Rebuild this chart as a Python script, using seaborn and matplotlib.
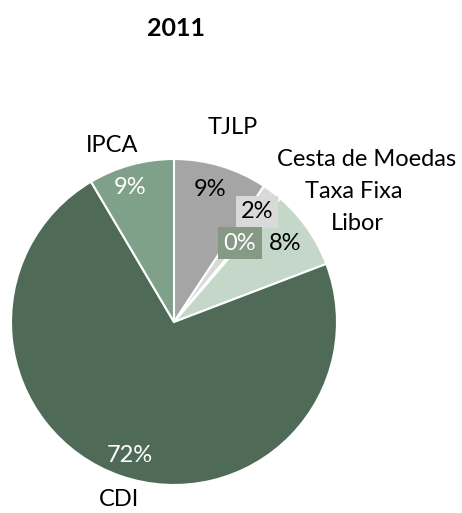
import matplotlib
matplotlib.use("Agg")
import matplotlib.pyplot as plt
import seaborn as sns

sns.set_theme(style="white")
plt.rcParams["font.family"] = ["Lato", "DejaVu Sans"]

# Share of debt by index, 2011
categories = ["TJLP", "Cesta de Moedas", "Taxa Fixa", "Libor", "CDI", "IPCA"]
shares = [9.3, 1.7, 0.3, 7.9, 72.3, 8.5]
pct_labels = ["9%", "2%", "0%", "8%", "72%", "9%"]
colors = ["#a5a5a5", "#d9d9d9", "#859985", "#c4d7c8", "#4f6b58", "#7fa189"]

W, H = 462, 513
fig = plt.figure(figsize=(W / 100, H / 100), dpi=100)
ax = fig.add_axes([0, 0, 1, 1])

cx, cy, r = 174, H - 322, 163
wedges, _ = ax.pie(shares, colors=colors, startangle=90, counterclock=False,
                   center=(cx, cy), radius=r, frame=True,
                   wedgeprops=dict(edgecolor="white", linewidth=1.5))
ax.set_xlim(0, W)
ax.set_ylim(0, H)
ax.set_aspect("equal")
ax.axis("off")

fs = 17
# category labels
cat_pos = {"TJLP": (233, 128), "Cesta de Moedas": (367, 160), "Taxa Fixa": (354, 191),
           "Libor": (357, 223), "CDI": (119, 500), "IPCA": (112, 145)}
for c in categories:
    x, y = cat_pos[c]
    ax.text(x, H - y, c, ha="center", va="center", fontsize=fs, color="black")

# value labels
pct_pos = [(210, 190), (257, 212), (240, 243), (285, 243), (130, 455), (130, 188)]
pct_colors = ["black", "black", "white", "black", "white", "white"]
boxed = [False, True, True, False, False, False]
for lab, (x, y), tc, b, col in zip(pct_labels, pct_pos, pct_colors, boxed, colors):
    kw = {}
    if b:
        kw["bbox"] = dict(boxstyle="square,pad=0.22", facecolor=col, edgecolor="none")
    ax.text(x, H - y, lab, ha="center", va="center", fontsize=fs, color=tc, **kw)

ax.text(176, H - 29, "2011", ha="center", va="center", fontsize=18, fontweight="bold",
        color="black")

fig.savefig("out.png", dpi=100)
